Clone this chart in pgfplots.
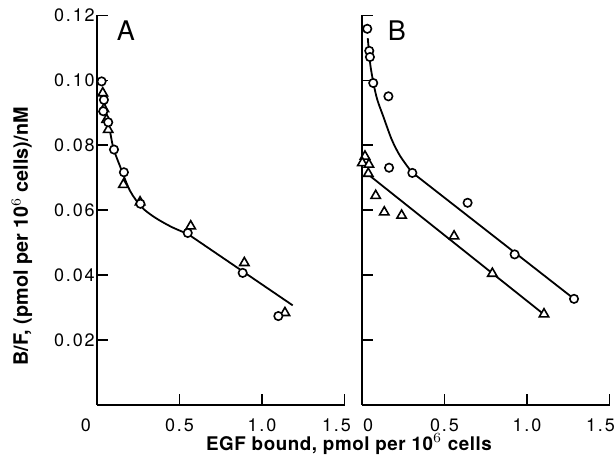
\documentclass[border=0pt]{standalone}
\usepackage{pgfplots}
\pgfplotsset{compat=1.18}
\usepackage{fontspec}
\setmainfont{TeX Gyre Heros}
\newfontfamily\tickfont[LetterSpace=10]{TeX Gyre Heros}
\newfontfamily\labfont[LetterSpace=3]{TeX Gyre Heros}
\begin{document}
\begin{tikzpicture}
\useasboundingbox (0pt,0pt) rectangle (308pt,229.5pt);
\pgfplotsset{
  panel/.style={
    anchor=origin, scale only axis,
    width=123.75pt, height=194.75pt,
    xmin=0, xmax=1.5, ymin=0, ymax=0.12,
    enlargelimits=false, clip=false,
    axis x line=bottom, axis y line=left,
    axis line style={-, line width=0.9pt, black},
    tick align=inside, major tick length=5.5pt,
    every tick/.style={black, line width=0.9pt},
    xtick={0,0.5,1,1.5},
    ytick={0.02,0.04,0.06,0.08,0.10,0.12},
    /pgf/number format/assume math mode=true,
    ticklabel style={font=\tickfont\fontsize{9}{9}\selectfont},
    xticklabel style={yshift=-3.5pt},
    yticklabel style={inner sep=1pt},
  },
  fitline/.style={black, line width=0.9pt, mark=none},
  circ/.style={only marks, mark=*, mark size=2.1pt, mark options={fill=white, draw=black, line width=0.8pt}},
  tri/.style={only marks, mark=triangle*, mark size=2.7pt, mark options={fill=white, draw=black, line width=0.8pt}},
}
% Panel A
\begin{axis}[panel, at={(48.5pt,27pt)},
  xticklabels={0\rule{11pt}{0pt},0.5,1.0,1.5\rule{8pt}{0pt}},
  yticklabels={0.02,0.04,0.06,0.08,0.10,0.12}]
\addplot[fitline, smooth, tension=0.5] coordinates {
 (0.035,0.0975) (0.06,0.089) (0.08,0.084) (0.10,0.079) (0.14,0.0735)
 (0.20,0.066) (0.27,0.061) (0.35,0.0578) (0.45,0.0549) (0.55,0.0527)};
\addplot[fitline] coordinates {(0.55,0.0527) (1.186,0.0307)};
\addplot[tri] coordinates {
 (0.035,0.0961) (0.042,0.0912) (0.058,0.0879) (0.068,0.0848) (0.16,0.0679)
 (0.261,0.0625) (0.568,0.0551) (0.893,0.0438) (1.139,0.0284)};
\addplot[circ] coordinates {
 (0.028,0.0997) (0.042,0.094) (0.038,0.0905) (0.068,0.0871) (0.103,0.0787)
 (0.163,0.0717) (0.263,0.0620) (0.55,0.053) (0.883,0.0407) (1.099,0.0274)};
\end{axis}
% Panel B
\begin{axis}[panel, at={(181pt,27pt)},
  xticklabels={\rule{6pt}{0pt}0,0.5,1.0,1.5\rule{9pt}{0pt}},
  yticklabels={}]
\addplot[fitline, smooth, tension=0.5] coordinates {
 (0.035,0.113) (0.05,0.105) (0.07,0.099) (0.093,0.094) (0.129,0.0889)
 (0.18,0.0818) (0.23,0.0768) (0.30,0.0718)};
\addplot[fitline] coordinates {(0.30,0.0718) (1.285,0.0327)};
\addplot[fitline] coordinates {(0.038,0.0710) (1.103,0.0279)};
\addplot[tri] coordinates {
 (0.018,0.0766) (0.002,0.0746) (0.042,0.0741) (0.038,0.0713) (0.083,0.0645)
 (0.135,0.0594) (0.24,0.0584) (0.558,0.052) (0.79,0.0405) (1.103,0.028)};
\addplot[circ] coordinates {
 (0.032,0.1159) (0.044,0.1091) (0.048,0.1072) (0.068,0.0992) (0.16,0.0951)
 (0.164,0.0731) (0.305,0.0715) (0.64,0.0623) (0.925,0.0464) (1.285,0.0327)};
\end{axis}
\node[font=\fontsize{13.5}{13.5}\selectfont] at (63pt,214pt) {A};
\node[font=\fontsize{13.5}{13.5}\selectfont] at (198.5pt,214.25pt) {B};
\node[rotate=90, font=\bfseries\fontsize{9.9}{9.9}\selectfont] at (11pt,111.25pt) {B/F, (pmol per 10$^{6}$ cells)/nM};
\node[font=\labfont\bfseries\fontsize{9.4}{9.4}\selectfont] at (174.5pt,7.5pt) {EGF bound, pmol per 10$^{6}$ cells};
\end{tikzpicture}
\end{document}
